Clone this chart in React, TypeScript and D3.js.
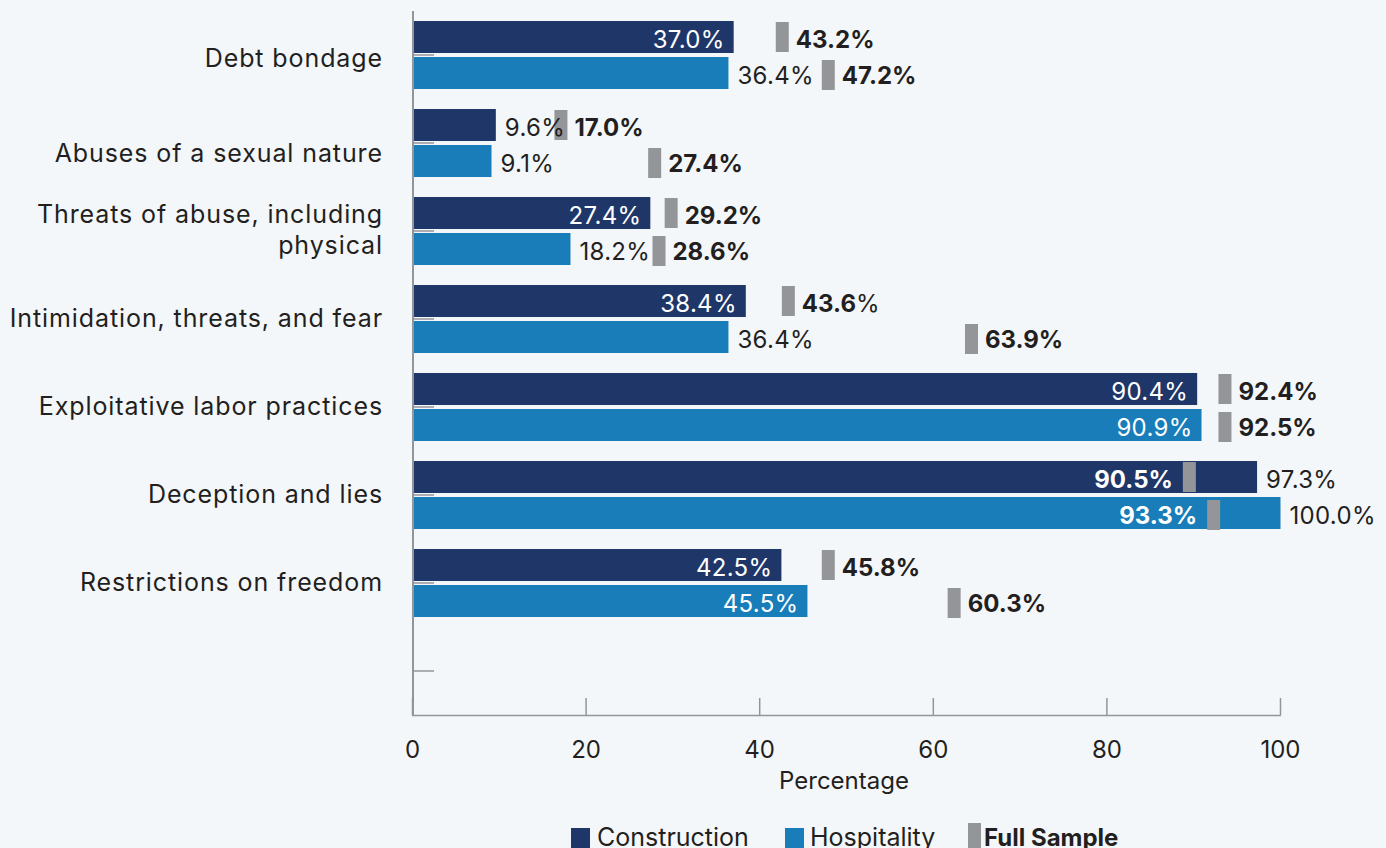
import React from "react";
import * as d3 from "d3";

const categories = [
  "Debt bondage",
  "Abuses of a sexual nature",
  "Threats of abuse, including physical",
  "Intimidation, threats, and fear",
  "Exploitative labor practices",
  "Deception and lies",
  "Restrictions on freedom",
  "",
];
const categoryLines: string[][] = [
  ["Debt bondage"],
  ["Abuses of a sexual nature"],
  ["Threats of abuse, including", "physical"],
  ["Intimidation, threats, and fear"],
  ["Exploitative labor practices"],
  ["Deception and lies"],
  ["Restrictions on freedom"],
  [],
];

const construction = [37.0, 9.6, 27.4, 38.4, 90.4, 97.3, 42.5];
const hospitality = [36.4, 9.1, 18.2, 36.4, 90.9, 100.0, 45.5];
// Full-sample labels (text) and where their markers sit on the scale
const fullSampleConstruction = [43.2, 17.0, 29.2, 43.6, 92.4, 90.5, 45.8];
const fullSampleHospitality = [47.2, 27.4, 28.6, 63.9, 92.5, 93.3, 60.3];
const fullSampleConstructionMarker = [42.6, 17.1, 29.8, 43.3, 93.6, 89.5, 47.9];
const fullSampleHospitalityMarker = [47.9, 27.9, 28.4, 64.4, 93.6, 92.3, 62.4];
const constructionLabelInside = [true, false, true, true, true, false, true];
const hospitalityLabelInside = [false, false, false, false, true, false, true];
const constructionPlainPercent = [false, false, false, true, false, false, false];
const xTicks = [0, 20, 40, 60, 80, 100];
const xTitle = "Percentage";
const legendItems = ["Construction", "Hospitality", "Full Sample"];

const W = 1386;
const H = 848;
const NAVY = "#1f3669";
const BLUE = "#187db9";
const GRAY = "#939598";
const BG = "#f4f7fa";
const TXT = "#231f20";
const FONT = "Inter, 'Noto Sans', sans-serif";

// vertical nudges for category label baselines (layout only)
const catBaseline = [11.7, 18.7, 0, 8, 8, 8.3, 8, 8];

export default function App() {
  const x = d3.scaleLinear().domain([0, 100]).range([412.5, 1280.5]);
  const y = d3
    .scaleBand<number>()
    .domain(d3.range(categories.length))
    .range([11, 715]);
  const bw = y.bandwidth();
  const center = (i: number) => (y(i) as number) + bw / 2;
  const fs = 24;
  const pad = 9;
  const markerW = 13;

  const series = [
    {
      vals: construction,
      fsVals: fullSampleConstruction,
      fsMarks: fullSampleConstructionMarker,
      inside: constructionLabelInside,
      color: NAVY,
      barTop: -34,
      markTop: -33,
      plain: constructionPlainPercent,
    },
    {
      vals: hospitality,
      fsVals: fullSampleHospitality,
      fsMarks: fullSampleHospitalityMarker,
      inside: hospitalityLabelInside,
      color: BLUE,
      barTop: 2,
      markTop: 5,
      plain: hospitality.map(() => false),
    },
  ];

  return (
    <div style={{ position: "absolute", left: 0, top: 0 }}>
      <svg width={W} height={H} style={{ display: "block", fontFamily: FONT }}>
        <rect x={0} y={0} width={W} height={H} fill={BG} />
        {/* bars */}
        {series.map((s, si) =>
          s.vals.map((v, i) => {
            const c = center(i);
            const y0 = c + s.barTop;
            const x0 = x(0);
            const x1 = x(v);
            const mx = x(s.fsMarks[i]) - markerW / 2;
            const markInBar = s.fsMarks[i] < v;
            const base = y0 + 16 + 11;
            return (
              <g key={`${si}-${i}`}>
                <rect x={x0} y={y0} width={x1 - x0} height={32} fill={s.color} />
                <rect x={mx} y={c + s.markTop} width={markerW} height={30} fill={GRAY} />
                {/* bar value label */}
                {s.inside[i] && !markInBar ? (
                  <text x={x1 - pad} y={base} textAnchor="end" fontSize={fs} fill="#fff" letterSpacing={0.3}>
                    {v.toFixed(1)}%
                  </text>
                ) : (
                  <text x={x1 + pad} y={base} textAnchor="start" fontSize={fs} fill={TXT} letterSpacing={0.3}>
                    {v.toFixed(1)}%
                  </text>
                )}
                {/* full sample label */}
                {markInBar ? (
                  <text
                    x={mx - 10}
                    y={base}
                    textAnchor="end"
                    fontSize={fs}
                    fontWeight={700}
                    fill="#fff"
                  >
                    {s.fsVals[i].toFixed(1)}%
                  </text>
                ) : (
                  <text x={mx + markerW + 7} y={base} fontSize={fs} fill={TXT}>
                    <tspan fontWeight={700}>{s.fsVals[i].toFixed(1)}</tspan>
                    <tspan fontWeight={s.plain[i] ? 400 : 700}>%</tspan>
                  </text>
                )}
              </g>
            );
          })
        )}
        {/* y axis */}
        <line x1={413} x2={413} y1={11} y2={716} stroke={GRAY} strokeWidth={2} />
        {categories.map((_, i) => (
          <line
            key={`yt${i}`}
            x1={412}
            x2={434}
            y1={center(i)}
            y2={center(i)}
            stroke={GRAY}
            strokeWidth={1.5}
          />
        ))}
        {categoryLines.map((lines, i) =>
          lines.map((ln, li) => (
            <text
              key={`cl${i}-${li}`}
              x={383}
              y={
                lines.length > 1
                  ? center(i) - 7.7 + li * 30.7
                  : center(i) + catBaseline[i]
              }
              textAnchor="end"
              fontSize={25}
              letterSpacing={0.9}
              fill={TXT}
            >
              {ln}
            </text>
          ))
        )}
        {/* x axis */}
        <line x1={412} x2={1281} y1={715.5} y2={715.5} stroke={GRAY} strokeWidth={1.5} />
        {xTicks.map((t) => (
          <g key={`xt${t}`}>
            <line x1={x(t)} x2={x(t)} y1={698} y2={715} stroke={GRAY} strokeWidth={1.5} />
            <text x={x(t)} y={758} textAnchor="middle" fontSize={fs} fill={TXT}>
              {t}
            </text>
          </g>
        ))}
        <text x={844} y={789} textAnchor="middle" fontSize={fs} fill={TXT}>
          {xTitle}
        </text>
        {/* legend */}
        <rect x={571} y={828} width={19} height={20} fill={NAVY} />
        <text x={597} y={846} fontSize={25} fill={TXT}>
          {legendItems[0]}
        </text>
        <rect x={785} y={828} width={19} height={20} fill={BLUE} />
        <text x={810} y={846} fontSize={25} fill={TXT}>
          {legendItems[1]}
        </text>
        <rect x={968} y={823} width={13} height={25} fill={GRAY} />
        <text x={984} y={846} fontSize={fs} fontWeight={700} fill={TXT}>
          {legendItems[2]}
        </text>
      </svg>
    </div>
  );
}
